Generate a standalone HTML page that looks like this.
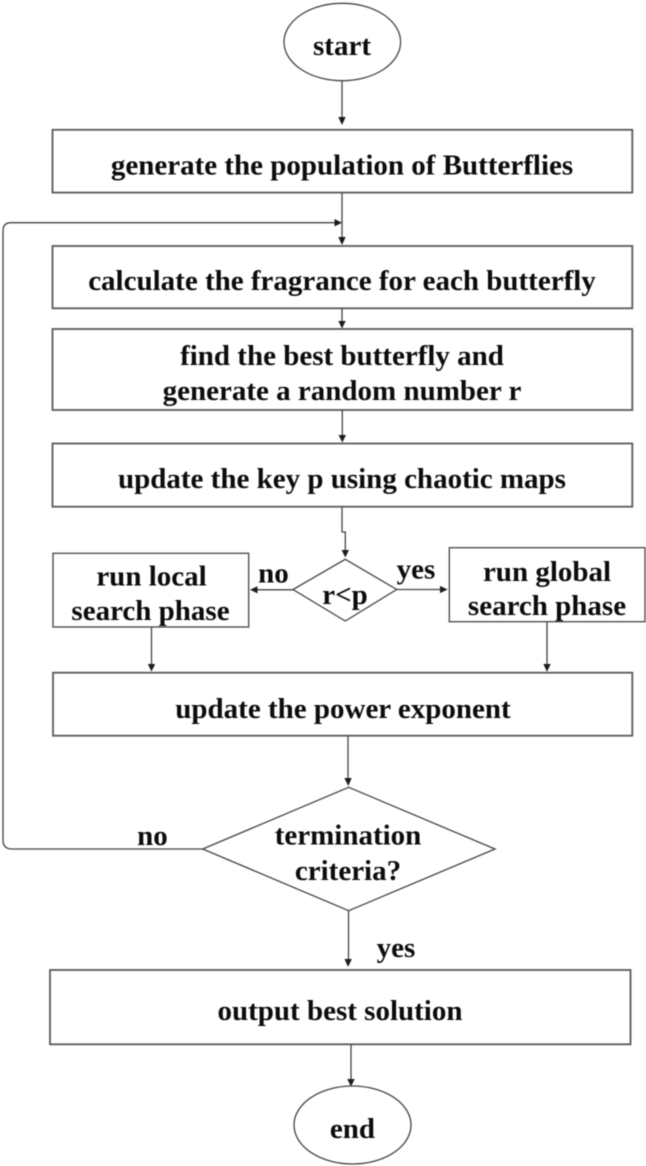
<!DOCTYPE html>
<html>
<head>
<meta charset="utf-8">
<style>
html,body{margin:0;padding:0;background:#fff;}
svg{display:block;filter:blur(0.45px);}
text{font-family:"Liberation Serif",serif;font-weight:bold;font-size:29px;fill:#0c0c0c;text-anchor:middle;}
.s{fill:none;stroke:#444;stroke-width:1.3;}
.b{fill:none;stroke:#5a5a5a;stroke-width:1.8;}
.a{fill:#1c1c1c;}
</style>
</head>
<body>
<svg width="646" height="1166" viewBox="0 0 646 1166" xmlns="http://www.w3.org/2000/svg">
<ellipse class="s" cx="342.300" cy="42" rx="58.300" ry="38.700"/>
<text x="342" y="55">start</text>
<path class="s" d="M342 81V118"/>
<polygon class="a" points="338.300,117 345.700,117 342,125"/>
<rect class="b" x="52.500" y="129.800" width="579.800" height="62.800"/>
<text x="342" y="174.500">generate the population of Butterflies</text>
<path class="s" d="M342 192.500V238"/>
<polygon class="a" points="338.300,237 345.700,237 342,245"/>
<path class="s" d="M338 222.700H11Q3 222.700 3 231V840Q3 849 12 849H204"/>
<polygon class="a" points="334.500,219 342,222.700 334.500,226.400"/>
<rect class="b" x="52.500" y="246" width="579.800" height="62.300"/>
<text x="342" y="290">calculate the fragrance for each butterfly</text>
<path class="s" d="M342 308V322"/>
<polygon class="a" points="338.300,321 345.700,321 342,328.500"/>
<rect class="b" x="52.500" y="329" width="579.800" height="81"/>
<text x="342" y="365">find the best butterfly and</text>
<text x="342" y="400">generate a random number r</text>
<path class="s" d="M342.300 410V436"/>
<polygon class="a" points="338.600,435 346,435 342.300,442.500"/>
<rect class="b" x="52.500" y="443.500" width="579.800" height="63.200"/>
<text x="342" y="488">update the key p using chaotic maps</text>
<path class="s" d="M342 506.700V532H345.300V551"/>
<polygon class="a" points="341.600,550 349,550 345.300,557.500"/>
<polygon class="s" points="345.300,559.300 396.700,589.500 345.300,621 293,589.500"/>
<text x="345" y="604">r&lt;p</text>
<path class="s" d="M293 589.800H256"/>
<polygon class="a" points="257.500,586.200 257.500,593.400 250,589.800"/>
<text x="273.500" y="582.700">no</text>
<path class="s" d="M396.700 589.500H441"/>
<polygon class="a" points="440,585.900 440,593.100 447.700,589.500"/>
<text x="416" y="578.500">yes</text>
<rect class="s" x="53" y="553.300" width="195.700" height="73.700"/>
<text x="151.500" y="585.700">run local</text>
<text x="150.500" y="620">search phase</text>
<rect class="s" x="449.300" y="547.700" width="195.700" height="74"/>
<text x="547" y="581">run global</text>
<text x="547" y="615">search phase</text>
<path class="s" d="M151.500 627V665"/>
<polygon class="a" points="147.800,664 155.200,664 151.500,671.500"/>
<path class="s" d="M547 622V665"/>
<polygon class="a" points="543.300,664 550.700,664 547,671.700"/>
<rect class="b" x="53" y="672.700" width="579.300" height="63"/>
<text x="343" y="718">update the power exponent</text>
<path class="s" d="M348 735.500V779"/>
<polygon class="a" points="344.300,778 351.700,778 348.300,786"/>
<polygon class="s" points="348.700,787.300 495,849 348.700,910.700 202.700,849"/>
<text x="348" y="844.500">termination</text>
<text x="348" y="880">criteria?</text>
<text x="152.500" y="845">no</text>
<path class="s" d="M348.500 910.700V960"/>
<polygon class="a" points="344.500,959 351.900,959 348,967"/>
<text x="396" y="957">yes</text>
<rect class="b" x="50" y="970" width="580.500" height="74.300"/>
<text x="340" y="1020">output best solution</text>
<path class="s" d="M351 1044.300V1080"/>
<polygon class="a" points="347.300,1079 354.700,1079 351,1086.700"/>
<ellipse class="s" cx="352.500" cy="1125" rx="58.500" ry="39"/>
<text x="352.500" y="1138">end</text>
</svg>
</body>
</html>
